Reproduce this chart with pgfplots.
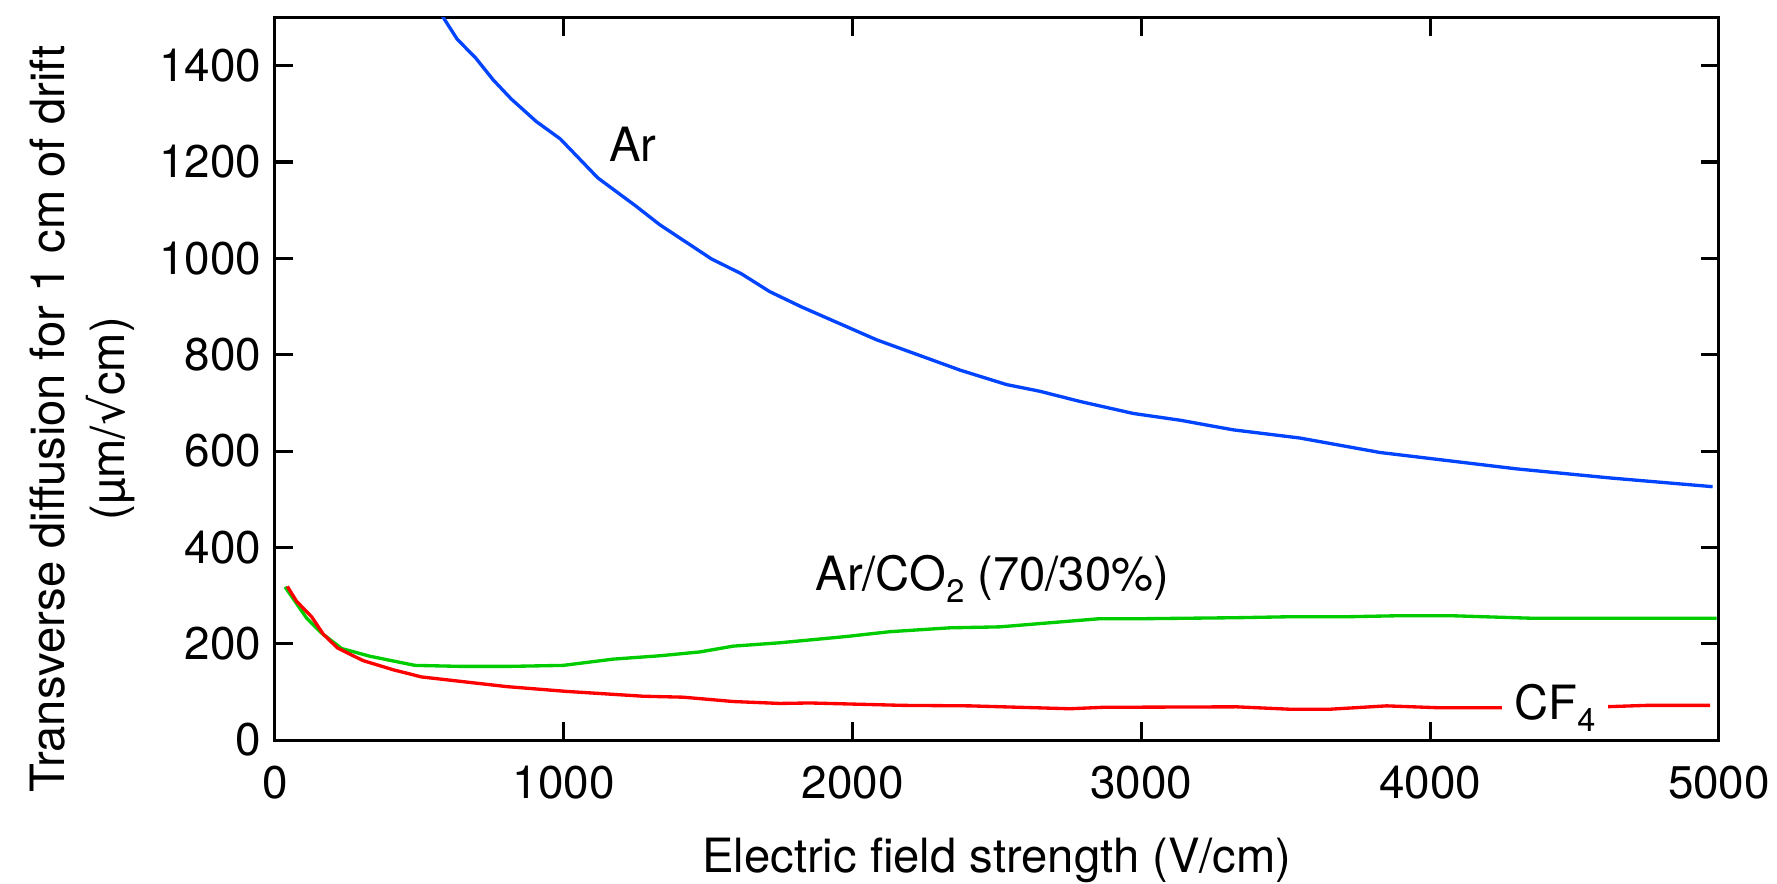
\documentclass[border=0pt]{standalone}
\usepackage{fontspec}
\setmainfont{TeX Gyre Heros}
\newfontfamily\symfont{DejaVu Sans}
\usepackage{pgfplots}
\pgfplotsset{compat=1.18}
\definecolor{arblue}{RGB}{0,68,255}
\definecolor{cogreen}{RGB}{0,204,0}
\definecolor{cfred}{RGB}{255,0,0}

\pgfplotstableread{
x y
540 1545
584 1499
631 1455
695 1416
755 1371
818 1331
905 1284
988 1248
1118 1167
1251 1108
1332 1070
1511 999
1615 968
1713 931
1824 899
2083 831
2372 768
2533 738
2649 724
2787 703
2972 678
3134 664
3318 644
3549 627
3826 597
4299 563
4625 544
4978 526
}\ardata

\pgfplotstableread{
x y
35 318
110 253
162 222
231 190
329 174
485 155
641 153
814 153
998 155
1171 168
1333 175
1472 183
1587 195
1749 202
1979 215
2130 225
2337 233
2510 235
2857 252
3018 252
3330 254
3515 256
3711 256
3884 258
4080 258
4346 253
4992 253
}\codata

\pgfplotstableread{
x y
43 319
75 288
127 256
167 220
217 191
305 165
409 146
508 131
802 111
1010 101
1275 91
1414 89
1587 80
1749 76
1852 77
2176 72
2406 71
2753 65
2868 68
3330 69
3515 64
3653 64
3849 71
4034 67
4242 67
4600 69
4750 72
4969 72
}\cfdata

\begin{document}
\begin{tikzpicture}
\begin{axis}[
  scale only axis, width=520pt, height=260.2pt,
  xmin=0, xmax=5000, ymin=0, ymax=1500,
  xtick={0,1000,...,5000}, ytick={0,200,...,1400},
  tick align=inside, tick pos=both, ticklabel pos=left,
  major tick length=6.5pt,
  every tick/.style={black, line width=1.1pt},
  axis line style={line width=1.1pt},
  scaled ticks=false,
  /pgf/number format/1000 sep={},
  /pgf/number format/assume math mode=true,
  ticklabel style={font=\fontsize{16.5}{19}\selectfont, inner sep=0pt},
  xticklabel style={anchor=north, yshift=-9pt},
  yticklabel style={anchor=east, xshift=-4.7pt},
  clip mode=individual,
  every axis plot/.append style={line width=1.2pt, line join=round},
]
\addplot[arblue, no markers] table[x=x,y=y] {\ardata};
\addplot[cogreen, no markers] table[x=x,y=y] {\codata};
\addplot[cfred, no markers] table[x=x,y=y] {\cfdata};

\node[anchor=base, font=\fontsize{17}{20}\selectfont] at (axis cs:1239,1201) {Ar};
\node[anchor=base, font=\fontsize{17}{20}\selectfont] at (axis cs:2484,311) {Ar/CO\raisebox{-4.3pt}{\fontsize{11.7}{12}\selectfont 2} (70/30\%)};
\node[anchor=base, fill=white, inner xsep=4.5pt, inner ysep=1pt, font=\fontsize{17}{20}\selectfont] at (axis cs:4432,42.3) {CF\raisebox{-4.2pt}{\fontsize{11.7}{12}\selectfont 4}};

\node[rotate=90, anchor=base, font=\fontsize{17}{20}\selectfont] at ([xshift=-75.6pt,yshift=-14.4pt]axis description cs:0,0.5) {Transverse diffusion for 1 cm of drift};
\node[rotate=90, anchor=base, font=\fontsize{17}{20}\selectfont] at ([xshift=-54pt,yshift=-14.4pt]axis description cs:0,0.5) {(µm/{\symfont √}cm)};
\node[anchor=base, font=\fontsize{17}{20}\selectfont] at ([yshift=-47.8pt]axis description cs:0.5,0) {Electric field strength (V/cm)};

\coordinate (SW) at (rel axis cs:0,0);
\coordinate (NE) at (rel axis cs:1,1);
\end{axis}
\pgfresetboundingbox
\path[use as bounding box] ([shift={(-99pt,-51.5pt)}]SW) rectangle ([shift={(20.9pt,6.3pt)}]NE);
\end{tikzpicture}
\end{document}
